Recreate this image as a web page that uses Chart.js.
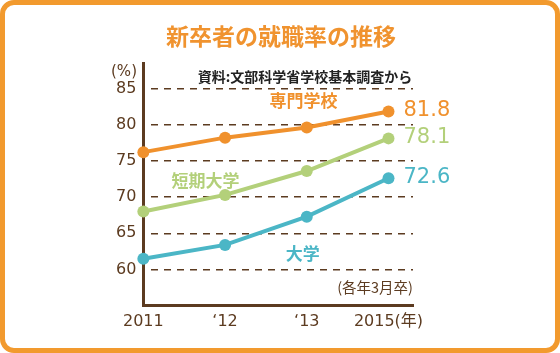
<!DOCTYPE html>
<html lang="ja">
<head>
<meta charset="utf-8">
<script src="https://cdn.jsdelivr.net/npm/chart.js@4"></script>
<style>
  body { margin: 0; background: #fff; }
  #wrap { position: relative; width: 560px; height: 353px; }
  #frame { position: absolute; left: 0; top: 0; width: 560px; height: 353px; box-sizing: border-box;
           border: 5px solid #f29a2e; border-radius: 14px; pointer-events: none; }
  canvas { position: absolute; left: 0; top: 0; }
</style>
</head>
<body>
<div id="wrap">
  <canvas id="chart" width="560" height="353"></canvas>
  <div id="frame"></div>
</div>
<script>
const years = ['2011', '‘12', '‘13', '2015(年)'];
const senmon = [76.2, 78.2, 79.6, 81.8];
const tanki = [68.0, 70.3, 73.6, 78.1];
const daigaku = [61.5, 63.4, 67.3, 72.6];
const yTicks = [60, 65, 70, 75, 80, 85];

const brown = '#5c3b20';
const orange = '#f0912d';
const green = '#b3d07a';
const teal = '#4bb6c6';
const jp = '"Noto Sans CJK JP", "Noto Sans", sans-serif';
const num = '"DejaVu Sans", "Noto Sans CJK JP", sans-serif';

const toPoints = values => values.map((v, i) => ({ x: i, y: v }));

const series = [
    { label: '専門学校', data: senmon, color: orange },
    { label: '短期大学', data: tanki, color: green },
    { label: '大学', data: daigaku, color: teal },
];

// text on top of the chart: title, source, units, series names, last values
const textPlugin = {
    id: 'texts',
    afterDatasetsDraw(chart) {
        const { ctx, scales: { x, y } } = chart;
        ctx.save();
        ctx.textBaseline = 'middle';

        ctx.textAlign = 'center';
        ctx.fillStyle = '#f0932f';
        ctx.font = 'bold 23px ' + jp;
        ctx.fillText('新卒者の就職率の推移', 281, 36);

        ctx.fillStyle = '#222';
        ctx.font = 'bold 14px ' + jp;
        ctx.fillText('資料:文部科学省学校基本調査から', 305, 77);

        ctx.fillStyle = brown;
        ctx.font = '15px ' + num;
        ctx.fillText('(%)', 124, 72);

        ctx.textAlign = 'right';
        ctx.font = '14.5px ' + jp;
        ctx.fillText('(各年3月卒)', x.right, 287);

        ctx.textAlign = 'center';
        ctx.font = 'bold 17px ' + jp;
        ctx.fillStyle = orange;
        ctx.fillText('専門学校', x.getPixelForValue(1.96), y.getPixelForValue(83.3));
        ctx.fillStyle = green;
        ctx.fillText('短期大学', x.getPixelForValue(0.76), y.getPixelForValue(72.3));
        ctx.fillStyle = teal;
        ctx.fillText('大学', x.getPixelForValue(1.95), y.getPixelForValue(62.2));

        ctx.textAlign = 'left';
        ctx.font = '21px ' + num;
        chart.data.datasets.forEach((ds, i) => {
            const pt = chart.getDatasetMeta(i).data[ds.data.length - 1];
            ctx.fillStyle = ds.borderColor;
            ctx.fillText(series[i].data[series[i].data.length - 1].toFixed(1), pt.x + 15, pt.y - 1);
        });
        ctx.restore();
    }
};

new Chart(document.getElementById('chart'), {
    type: 'line',
    data: {
        datasets: series.map(s => ({
            label: s.label,
            data: toPoints(s.data),
            borderColor: s.color,
            backgroundColor: s.color,
            pointBackgroundColor: s.color,
            pointBorderWidth: 0,
            pointRadius: 6,
            borderWidth: 4,
            tension: 0,
            clip: false,
        }))
    },
    options: {
        responsive: false,
        animation: false,
        layout: { padding: { left: 109, right: 147, top: 63, bottom: 16 } },
        plugins: { legend: { display: false }, tooltip: { enabled: false } },
        scales: {
            x: {
                type: 'linear',
                min: 0,
                max: 3.3,
                afterBuildTicks: scale => { scale.ticks = years.map((_, i) => ({ value: i })); },
                grid: { display: false, drawTicks: false },
                border: { display: true, color: brown, width: 3 },
                ticks: {
                    autoSkip: false,
                    maxRotation: 0,
                    padding: 6,
                    color: brown,
                    font: { family: num, size: 16 },
                    callback: v => years[v],
                },
            },
            y: {
                min: 55,
                max: 88.5,
                afterBuildTicks: scale => { scale.ticks = yTicks.map(v => ({ value: v })); },
                grid: { color: brown, lineWidth: 1.5, drawTicks: false },
                border: { display: true, color: brown, width: 3, dash: [7, 6], dashOffset: -6 },
                ticks: {
                    padding: 7,
                    color: brown,
                    font: { family: num, size: 16 },
                },
            },
        },
    },
    plugins: [textPlugin],
});
</script>
</body>
</html>
